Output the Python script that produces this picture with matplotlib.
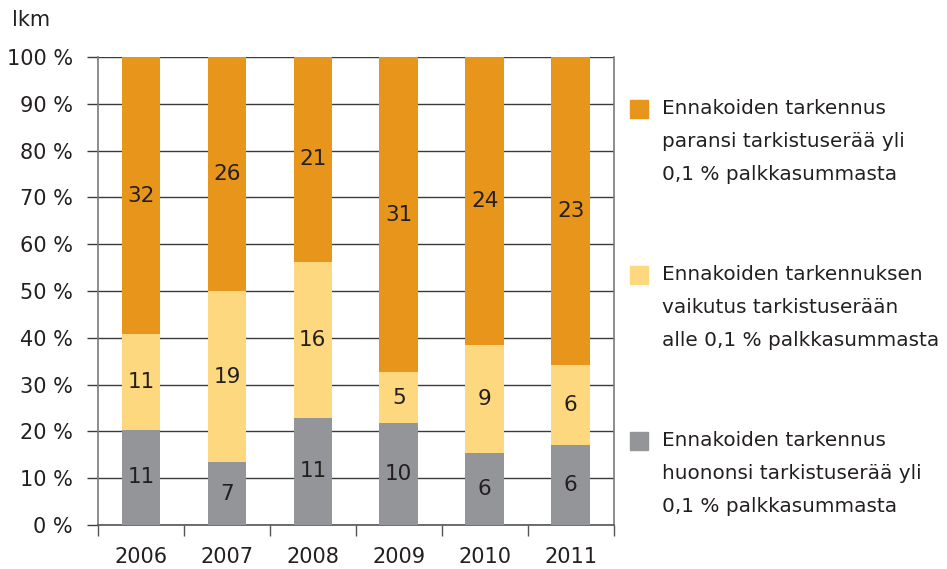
import numpy as np
import matplotlib.pyplot as plt
from matplotlib.patches import Rectangle

# ----- DATA -----
years = ["2006", "2007", "2008", "2009", "2010", "2011"]
huononsi = [11, 7, 11, 10, 6, 6]        # grey, bottom
alle = [11, 19, 16, 5, 9, 6]            # light yellow, middle
paransi = [32, 26, 21, 31, 24, 23]      # orange, top
y_ticks = [0, 10, 20, 30, 40, 50, 60, 70, 80, 90, 100]

legend_lines = [
    ["Ennakoiden tarkennus", "paransi tarkistuserää yli", "0,1 % palkkasummasta"],
    ["Ennakoiden tarkennuksen", "vaikutus tarkistuserään", "alle 0,1 % palkkasummasta"],
    ["Ennakoiden tarkennus", "huononsi tarkistuserää yli", "0,1 % palkkasummasta"],
]

c_orange = "#e8951c"
c_yellow = "#fdd87e"
c_grey = "#939598"
txt = "#231f20"

plt.rcParams['font.family'] = ['DejaVu Sans']

fig = plt.figure(figsize=(9.47, 5.69), dpi=100)
ax = fig.add_axes([0.1035, 0.0773, 0.5445, 0.8225])

h = np.array(huononsi, float)
a = np.array(alle, float)
p = np.array(paransi, float)
tot = h + a + p
hp = h / tot * 100
ap = a / tot * 100
pp = p / tot * 100

x = np.arange(len(years))
w = 0.45
ax.bar(x, hp, w, color=c_grey, zorder=3)
ax.bar(x, ap, w, bottom=hp, color=c_yellow, zorder=3)
ax.bar(x, pp, w, bottom=hp + ap, color=c_orange, zorder=3)

fs = 15
for i in range(len(years)):
    ax.text(x[i], hp[i] / 2, str(huononsi[i]), ha='center', va='center', fontsize=fs + 0.5, color=txt, zorder=4)
    ax.text(x[i], hp[i] + ap[i] / 2, str(alle[i]), ha='center', va='center', fontsize=fs + 0.5, color=txt, zorder=4)
    ax.text(x[i], hp[i] + ap[i] + pp[i] / 2, str(paransi[i]), ha='center', va='center', fontsize=fs + 0.5, color=txt, zorder=4)

ax.set_xlim(-0.5, len(years) - 0.5)
ax.set_ylim(0, 100)
ax.set_yticks(y_ticks)
ax.set_yticklabels([f"{v} %" for v in y_ticks], fontsize=fs, color=txt)
ax.yaxis.grid(True, color="#3a3a3a", linewidth=1.0, zorder=0)
ax.tick_params(axis='y', length=8, width=1.0, color="#3a3a3a", pad=10)

ax.set_xticks(x)
ax.set_xticklabels(years, fontsize=fs, color=txt)
ax.set_xticks(np.arange(len(years) + 1) - 0.5, minor=True)
ax.tick_params(axis='x', which='major', length=0, pad=16)
ax.tick_params(axis='x', which='minor', length=8, width=1.0, color="#555555")

for s in ['left', 'right']:
    ax.spines[s].set_color("#7a7a7a")
    ax.spines[s].set_linewidth(1.2)
ax.spines['bottom'].set_color("#555555")
ax.spines['bottom'].set_linewidth(1.2)
ax.spines['top'].set_visible(False)

fig.text(12 / 947, 1 - 20 / 569, "lkm", fontsize=fs, color=txt, va='center', ha='left')

# ----- LEGEND -----
colors = [c_orange, c_yellow, c_grey]
starts = [108.5, 274.5, 440.5]
for k in range(3):
    y0 = starts[k]
    fig.patches.append(Rectangle((630 / 947, 1 - (y0 + 9) / 569), 18 / 947, 18 / 569,
                                 transform=fig.transFigure, color=colors[k]))
    for j, line in enumerate(legend_lines[k]):
        fig.text(662 / 947, 1 - (y0 + 33 * j) / 569, line, fontsize=14.4, color=txt,
                 va='center', ha='left')

fig.savefig("out.png", dpi=100)
